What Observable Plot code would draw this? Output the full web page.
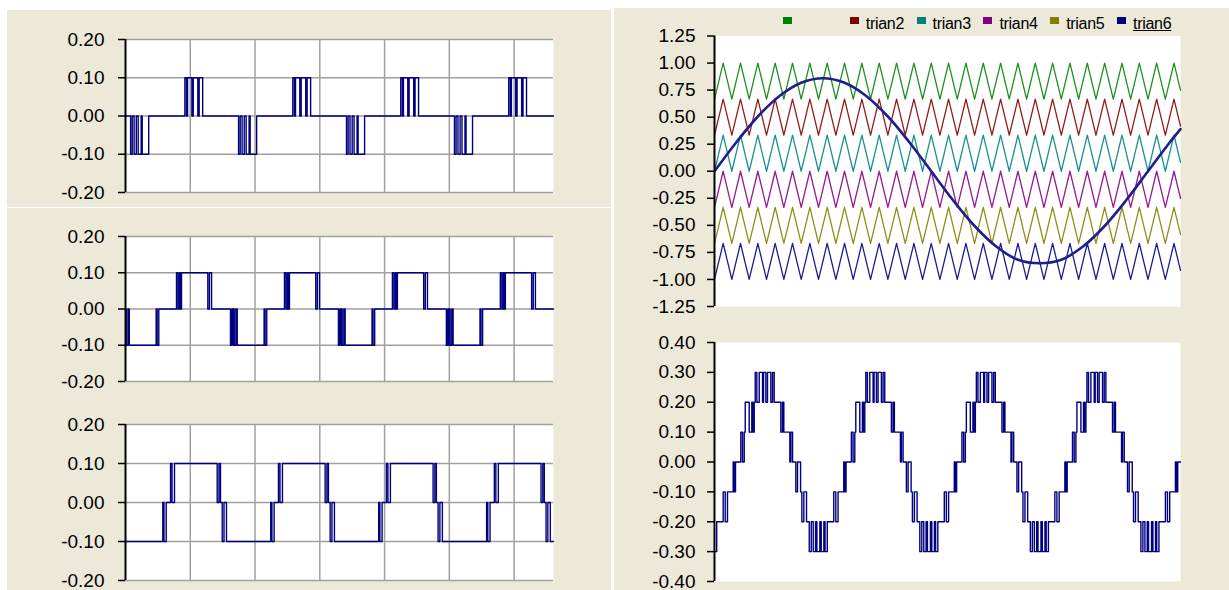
<!DOCTYPE html>
<html>
<head>
<meta charset="utf-8">
<script src="https://cdn.jsdelivr.net/npm/d3@7"></script>
<script src="https://cdn.jsdelivr.net/npm/@observablehq/plot@0.6"></script>
<style>
  html, body { margin: 0; padding: 0; }
  body { width: 1229px; height: 590px; background: #fff; position: relative; overflow: hidden;
         font-family: "Liberation Sans", Arial, sans-serif; }
  .bg { position: absolute; background: #ECE9D8; }
  .panel { position: absolute; }
  .legend-item { position: absolute; top: 16px; height: 16px; line-height: 16px; font-size: 16px; color: #000; white-space: nowrap; }
  .legend-item .sw { position: absolute; left: 0; top: 1px; width: 9px; height: 7px; }
  .legend-item .lb { position: absolute; left: 16px; top: 0; letter-spacing: -0.3px; }
</style>
</head>
<body>
<div class="bg" style="left:7px;top:10px;width:604px;height:197px"></div>
<div class="bg" style="left:7px;top:208px;width:604px;height:382px"></div>
<div class="bg" style="left:614px;top:8px;width:615px;height:582px"></div>
<div id="p1" class="panel" style="left:7px;top:10px"></div>
<div id="p2" class="panel" style="left:7px;top:208px"></div>
<div id="p3" class="panel" style="left:7px;top:396px"></div>
<div id="rt" class="panel" style="left:614px;top:0px"></div>
<div id="rb" class="panel" style="left:614px;top:318px"></div>
<div id="legend"></div>
<script>
// ---------------- DATA ----------------
// Left panels: time in ms, 4 fundamental periods of 20 ms
const leftEnd = 79.3;
const leftPeriodStarts = [0, 20, 40, 60];
const leftXGrid = [12, 24, 36, 48, 60, 72];
const leftYTicks = [-0.2, -0.1, 0, 0.1, 0.2];

// cell 1 (top panel) — transitions within one period
const cell1T = [0, 0.95, 1.25, 1.6, 2.0, 2.35, 2.9, 3.1, 4.3, 11.0, 11.3, 11.5, 12.3, 12.55, 13.4, 13.65, 14.3];
const cell1V = [0, -0.1, 0, -0.1, 0, -0.1, 0, -0.1, 0, 0.1, 0, 0.1, 0, 0.1, 0, 0.1, 0];

// cell 2 (middle panel)
const cell2T = [0, 0.15, 0.45, 0.7, 5.68, 5.87, 6.17, 9.45, 9.73, 10.0, 10.19, 10.38, 15.25, 15.55, 15.95, 19.45, 19.7, 19.95];
const cell2V = [0, -0.1, 0, -0.1, 0, -0.1, 0, 0.1, 0, 0.1, 0, 0.1, 0, 0.1, 0, -0.1, 0, -0.1];

// cell 3 (bottom panel)
const cell3T = [0, 6.91, 7.13, 7.54, 8.34, 8.62, 9.08, 16.99, 17.32, 17.6, 17.92, 18.25, 18.71];
const cell3V = [-0.1, 0, -0.1, 0, 0.1, 0, 0.1, 0, 0.1, 0, -0.1, 0, -0.1];

// Right bottom: output phase voltage (7 levels)
const outEnd = 84.3;
const outPeriodStarts = [0, 20, 40, 60, 80];
const outYTicks = [-0.4, -0.3, -0.2, -0.1, 0, 0.1, 0.2, 0.3, 0.4];
const outT = [0, 0.4, 1.57, 1.94, 2.35, 3.38, 3.57, 3.8, 4.76, 5.07, 5.38, 5.56, 6.28, 6.75, 6.93, 7.19,
              7.37, 7.66, 8.09, 8.69, 8.87, 9.29, 9.59, 10.19, 10.5, 10.8, 12.0, 12.3, 12.54, 13.63, 13.81, 14.12,
              14.71, 15.02, 15.57, 15.8, 16.16, 16.65, 17.14, 17.5, 17.86, 18.28, 18.52, 19.06, 19.31, 19.78];
const outV = [-0.3, -0.2, -0.1, -0.2, -0.1, 0, -0.1, 0, 0.1, 0, 0.1, 0.2, 0.1, 0.2, 0.1, 0.2,
              0.3, 0.2, 0.3, 0.2, 0.3, 0.2, 0.3, 0.2, 0.3, 0.2, 0.1, 0.2, 0.1, 0, 0.1, 0,
              -0.1, 0, -0.1, -0.2, -0.1, -0.2, -0.3, -0.2, -0.3, -0.2, -0.3, -0.2, -0.3, -0.2];

// Right top: carriers and modulating sine
const topEnd = 21.5;
const topYTicks = [-1.25, -1.0, -0.75, -0.5, -0.25, 0, 0.25, 0.5, 0.75, 1.0, 1.25];
const carrierNames = ["trian1", "trian2", "trian3", "trian4", "trian5", "trian6"];
const legendLabels = ["", "trian2", "trian3", "trian4", "trian5", "trian6"];
const carrierLow  = [0.667, 0.333, 0.0, -0.333, -0.667, -1.0];
const carrierHigh = [1.0, 0.667, 0.333, 0.0, -0.333, -0.667];
const carrierColors = ["#1f8f1f", "#921c1c", "#1c9090", "#921c92", "#8e8e1c", "#1c1c8e"];
const legendColors  = ["#008000", "#800000", "#008080", "#800080", "#808000", "#000080"];
const carrierT = [0, 0.4, 0.8, 1.2, 1.6, 2.0, 2.4, 2.8, 3.2, 3.6, 4.0, 4.4, 4.8, 5.2, 5.6, 6.0, 6.4, 6.8,
                  7.2, 7.6, 8.0, 8.4, 8.8, 9.2, 9.6, 10.0, 10.4, 10.8, 11.2, 11.6, 12.0, 12.4, 12.8, 13.2,
                  13.6, 14.0, 14.4, 14.8, 15.2, 15.6, 16.0, 16.4, 16.8, 17.2, 17.6, 18.0, 18.4, 18.8, 19.2,
                  19.6, 20.0, 20.4, 20.8, 21.2, 21.5];
const carrierPos = [0, 1, 0, 1, 0, 1, 0, 1, 0, 1, 0, 1, 0, 1, 0, 1, 0, 1,
                    0, 1, 0, 1, 0, 1, 0, 1, 0, 1, 0, 1, 0, 1, 0, 1,
                    0, 1, 0, 1, 0, 1, 0, 1, 0, 1, 0, 1, 0, 1, 0,
                    1, 0, 1, 0, 1, 0.25];
const sineT = [0, 1, 2, 3, 4, 5, 6, 7, 8, 9, 10, 11, 12, 13, 14, 15, 16, 17, 18, 19, 20, 21, 21.5];
const sineV = [0, 0.266, 0.506, 0.696, 0.818, 0.86, 0.818, 0.696, 0.506, 0.266, 0, -0.266, -0.506,
               -0.696, -0.818, -0.85, -0.818, -0.696, -0.506, -0.266, 0, 0.266, 0.39];

// ---------------- BUILD ----------------
const FONT = '"Liberation Sans", Arial, sans-serif';
const waveColor = "#000080";
const gridColor = "#a0a0a0";

function stepRows(pT, pV, starts, end) {
  const rows = [];
  for (const s of starts) {
    for (let i = 0; i < pT.length; i++) {
      const t = s + pT[i];
      if (t < end) rows.push({t, v: pV[i]});
    }
  }
  rows.push({t: end, v: rows[rows.length - 1].v});
  return rows;
}

function axisMarks(ticks, pad) {
  return [
    Plot.ruleX([0], {stroke: "#000", strokeWidth: 2}),
    Plot.axisY({ticks, tickFormat: d => d.toFixed(2), tickSize: 7, tickPadding: pad, label: null,
                fontSize: 19, color: "#000", strokeWidth: 1.5})
  ];
}

function leftPanel(el, rows, h, mt, mb) {
  const chart = Plot.plot({
    width: 604, height: h,
    marginLeft: 118, marginRight: 58, marginTop: mt, marginBottom: mb,
    x: {domain: [0, leftEnd], axis: null},
    y: {domain: [-0.2, 0.2], label: null},
    style: {background: "transparent", fontFamily: FONT, color: "#000", overflow: "visible"},
    marks: [
      Plot.frame({fill: "white", stroke: "none"}),
      Plot.ruleY(leftYTicks, {stroke: gridColor, strokeWidth: 1.5}),
      Plot.ruleX(leftXGrid, {stroke: gridColor, strokeWidth: 1.5}),
      Plot.line(rows, {x: "t", y: "v", curve: "step-after", stroke: waveColor, strokeWidth: 1.4}),
      ...axisMarks(leftYTicks, 14)
    ]
  });
  document.getElementById(el).appendChild(chart);
}

leftPanel("p1", stepRows(cell1T, cell1V, leftPeriodStarts, leftEnd), 197, 29, 15);
leftPanel("p2", stepRows(cell2T, cell2V, leftPeriodStarts, leftEnd), 188, 28, 15);
leftPanel("p3", stepRows(cell3T, cell3V, leftPeriodStarts, leftEnd), 194, 28, 10);

// right top
const carrierRows = [];
carrierNames.forEach((name, i) => {
  carrierT.forEach((t, j) => {
    carrierRows.push({series: name, t, v: carrierLow[i] + carrierPos[j] * (carrierHigh[i] - carrierLow[i])});
  });
});
const sineRows = sineT.map((t, i) => ({t, v: sineV[i]}));

document.getElementById("rt").appendChild(Plot.plot({
  width: 615, height: 318,
  marginLeft: 100, marginRight: 49, marginTop: 35.5, marginBottom: 12,
  x: {domain: [0, topEnd], axis: null},
  y: {domain: [-1.25, 1.25], label: null},
  color: {domain: carrierNames, range: carrierColors},
  style: {background: "transparent", fontFamily: FONT, color: "#000", overflow: "visible"},
  marks: [
    Plot.frame({fill: "white", stroke: "none"}),
    Plot.line(carrierRows, {x: "t", y: "v", z: "series", stroke: "series", strokeWidth: 1.3}),
    Plot.line(sineRows, {x: "t", y: "v", curve: "catmull-rom", stroke: "#1e1e8c", strokeWidth: 2.6}),
    ...axisMarks(topYTicks, 12)
  ]
}));

// right bottom
document.getElementById("rb").appendChild(Plot.plot({
  width: 615, height: 272,
  marginLeft: 100, marginRight: 49, marginTop: 24, marginBottom: 9,
  x: {domain: [0, outEnd], axis: null},
  y: {domain: [-0.4, 0.4], label: null},
  style: {background: "transparent", fontFamily: FONT, color: "#000", overflow: "visible"},
  marks: [
    Plot.frame({fill: "white", stroke: "none"}),
    Plot.line(stepRows(outT, outV, outPeriodStarts, outEnd),
              {x: "t", y: "v", curve: "step-after", stroke: waveColor, strokeWidth: 1.4}),
    ...axisMarks(outYTicks, 12)
  ]
}));

// legend
const legend = document.getElementById("legend");
legendLabels.forEach((lab, i) => {
  const item = document.createElement("div");
  item.className = "legend-item";
  item.style.left = (783 + i * 66.8) + "px";
  const sw = document.createElement("span");
  sw.className = "sw";
  sw.style.background = legendColors[i];
  item.appendChild(sw);
  const tx = document.createElement("span");
  tx.className = "lb";
  tx.textContent = lab;
  if (i === legendLabels.length - 1) tx.style.textDecoration = "underline";
  item.appendChild(tx);
  legend.appendChild(item);
});
</script>
</body>
</html>
